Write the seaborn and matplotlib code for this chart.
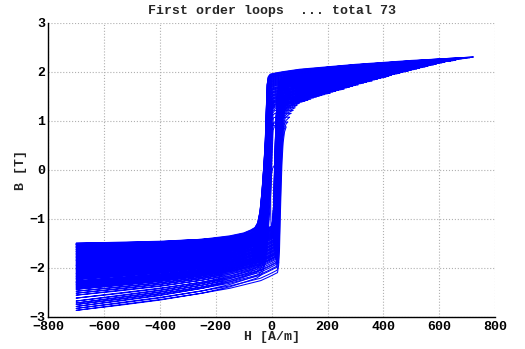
import numpy as np
import pandas as pd
import matplotlib
matplotlib.use("Agg")
import matplotlib.pyplot as plt
import seaborn as sns

# reversal field of each first order loop [A/m]
hr = [40, 46, 52, 58, 64, 70, 77, 84, 91, 100,
      110, 120, 130, 140, 150, 160, 170, 180, 190, 200,
      210, 220, 230, 240, 250, 260, 270, 280, 290, 300,
      310, 320, 330, 340, 350, 360, 370, 380, 390, 400,
      410, 420, 430, 440, 450, 460, 470, 480, 490, 500,
      510, 520, 530, 540, 550, 560, 570, 580, 590, 600,
      610, 620, 630, 640, 650, 660, 670, 680, 690, 700,
      710, 722]

# drift of B on the positive side of each loop [T]
d_top = [-0.75, -0.82, -0.95, -0.90, -0.84, -0.78, -0.74, -0.71, -0.68, -0.66,
         -0.64, -0.63, -0.62, -0.61, -0.59, -0.58, -0.57, -0.56, -0.55, -0.54,
         -0.53, -0.51, -0.50, -0.49, -0.48, -0.47, -0.45, -0.44, -0.43, -0.42,
         -0.41, -0.39, -0.38, -0.37, -0.36, -0.35, -0.33, -0.32, -0.31, -0.30,
         -0.29, -0.28, -0.26, -0.25, -0.24, -0.23, -0.22, -0.21, -0.20, -0.19,
         -0.18, -0.17, -0.16, -0.15, -0.14, -0.13, -0.12, -0.11, -0.10, -0.09,
         -0.08, -0.07, -0.06, -0.06, -0.05, -0.04, -0.03, -0.02, -0.02, -0.01,
         -0.01, 0.00]

# drift of B at H = -700 A/m for each loop [T]
d_left = [-1.18, -1.25, -1.37, -1.33, -1.29, -1.22, -1.12, -1.06, -1.02, -0.98,
          -0.94, -0.92, -0.90, -0.88, -0.86, -0.84, -0.83, -0.81, -0.80, -0.78,
          -0.77, -0.74, -0.72, -0.71, -0.69, -0.68, -0.66, -0.64, -0.62, -0.61,
          -0.59, -0.57, -0.55, -0.54, -0.52, -0.50, -0.48, -0.46, -0.45, -0.43,
          -0.42, -0.40, -0.38, -0.36, -0.35, -0.33, -0.32, -0.30, -0.29, -0.27,
          -0.26, -0.24, -0.23, -0.21, -0.20, -0.18, -0.17, -0.16, -0.14, -0.13,
          -0.12, -0.10, -0.09, -0.08, -0.07, -0.06, -0.04, -0.03, -0.03, -0.02,
          -0.01, 0.00]

# outer loop
asc_h = [-700, -550, -400, -250, -150, -100, -60, -30, 0, 4, 7, 10, 13, 16,
         20, 25, 32, 45, 60, 100, 200, 300, 400, 500, 600, 722]
asc_b = [-1.50, -1.48, -1.46, -1.42, -1.38, -1.34, -1.29, -1.23, -1.15, -1.00,
         -0.70, 0.00, 0.60, 1.10, 1.50, 1.72, 1.84, 1.91, 1.95, 2.02, 2.09,
         2.14, 2.18, 2.22, 2.26, 2.30]
desc_h = [-700, -550, -400, -250, -150, -100, -75, -60, -50, -42, -35, -30,
          -27, -23, -19, -16, -12, -5, 10, 40, 100, 200, 300, 400, 500, 600,
          722]
desc_b = [-1.50, -1.49, -1.47, -1.42, -1.35, -1.29, -1.23, -1.18, -1.08,
          -0.85, -0.45, -0.05, 0.20, 0.60, 1.30, 1.75, 1.90, 1.95, 1.97, 2.00,
          2.05, 2.10, 2.15, 2.19, 2.23, 2.26, 2.30]

# the small inner loop
small_h = [-8, -4, -1.2, -1.5, -3.6, -3.6, -2.4, 0, 3.6, 11.8, 15.4, 16.6,
           16.6, 15.4, 14.2, 14.2, 15.4, 20, 25]
small_b = [-1.85, -1.70, -1.50, -1.23, -0.89, -0.55, -0.28, -0.07, 0.03, 0.11,
           0.06, -0.07, -0.28, -0.55, -0.89, -1.23, -1.50, -1.75, -1.90]


def branch(h, b, dt, dl, sh):
    h = np.asarray(h, float)
    b = np.asarray(b, float)
    h2 = h + np.where(np.abs(h) < 100, sh, 0.0)
    off = dt + (dl - dt) * np.clip(-h2 / 700, 0, 1)
    return h2, b + off


rows = []
for k in range(len(hr)):
    sh = -d_top[k] * 22
    ah, ab = branch(asc_h, asc_b, d_top[k], d_left[k], sh)
    top = np.interp(hr[k], ah, ab)
    m = ah < hr[k]
    hh = list(ah[m]) + [hr[k]]
    bb = list(ab[m]) + [top]
    dh, db = branch(desc_h, desc_b, d_top[k], d_left[k], sh)
    m = dh < hr[k]
    hh += list(dh[m][::-1])
    bb += list(np.minimum(db[m], top)[::-1])
    for i, (x, y) in enumerate(zip(hh, bb)):
        rows.append((k, i, x, y))

for i, (x, y) in enumerate(zip(small_h, small_b)):
    rows.append((len(hr), i, x, y))

df = pd.DataFrame(rows, columns=["loop", "order", "H", "B"])

sns.set_style("white")
plt.rcParams["font.family"] = ["Liberation Mono", "DejaVu Sans"]
plt.rcParams["font.weight"] = "bold"

fig, ax = plt.subplots(figsize=(5.25, 3.49), dpi=100)
fig.subplots_adjust(left=0.092, right=0.943, top=0.935, bottom=0.0925)

sns.lineplot(data=df, x="H", y="B", units="loop", estimator=None, sort=False,
             color="blue", lw=0.75, ax=ax, legend=False)

ax.set_xlim(-800, 800)
ax.set_ylim(-3, 3)
ax.set_xticks(range(-800, 801, 200))
ax.set_yticks(range(-3, 4))
ax.grid(True, ls=":", color="#b0b0b0", lw=0.8)
ax.set_axisbelow(True)
for s in ["top", "right"]:
    ax.spines[s].set_visible(False)
for s in ["left", "bottom"]:
    ax.spines[s].set_color("black")
    ax.spines[s].set_linewidth(1.0)
ax.tick_params(direction="in", length=4, width=1, colors="black",
               labelsize=9.5, pad=2)
ax.tick_params(axis="x", pad=3)
for lab in ax.get_xticklabels() + ax.get_yticklabels():
    lab.set_fontweight("bold")

ax.set_title("First order loops  ... total 73", fontsize=9.5,
             fontweight="bold", pad=6)
ax.set_xlabel("H [A/m]", fontsize=9.5, fontweight="bold", labelpad=-1)
ax.set_ylabel("B [T]", fontsize=9.5, fontweight="bold", labelpad=2)

fig.savefig("out.png", dpi=100)
